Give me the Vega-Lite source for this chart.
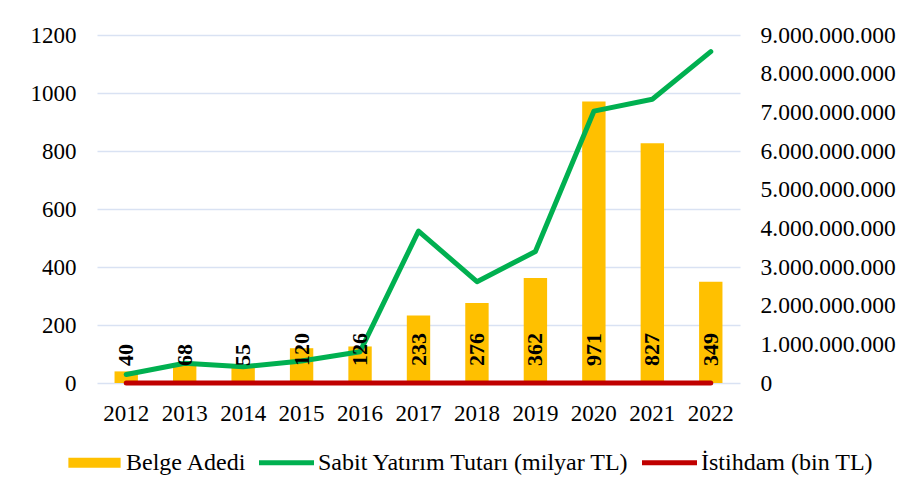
{
  "$schema": "https://vega.github.io/schema/vega-lite/v6.json",
  "autosize": "none",
  "width": 643,
  "height": 348,
  "padding": {"left": 97, "top": 35, "right": 169, "bottom": 114},
  "background": "white",
  "config": {
    "view": {"stroke": null},
    "font": "Liberation Serif",
    "locale": {"number": {"decimal": ",", "thousands": ".", "grouping": [3], "currency": ["", " TL"]}},
    "axis": {"labelFont": "Liberation Serif", "labelFontSize": 23, "labelColor": "#000000", "domain": false, "ticks": false, "title": null, "labelOverlap": false}
  },
  "data": {
    "values": [
      {"yil": "2012", "belge": 40, "yatirim": 220000000, "istihdam": 0},
      {"yil": "2013", "belge": 68, "yatirim": 510000000, "istihdam": 0},
      {"yil": "2014", "belge": 55, "yatirim": 420000000, "istihdam": 0},
      {"yil": "2015", "belge": 120, "yatirim": 570000000, "istihdam": 0},
      {"yil": "2016", "belge": 126, "yatirim": 810000000, "istihdam": 0},
      {"yil": "2017", "belge": 233, "yatirim": 3930000000, "istihdam": 0},
      {"yil": "2018", "belge": 276, "yatirim": 2620000000, "istihdam": 0},
      {"yil": "2019", "belge": 362, "yatirim": 3400000000, "istihdam": 0},
      {"yil": "2020", "belge": 971, "yatirim": 7030000000, "istihdam": 0},
      {"yil": "2021", "belge": 827, "yatirim": 7340000000, "istihdam": 0},
      {"yil": "2022", "belge": 349, "yatirim": 8570000000, "istihdam": 0}
    ]
  },
  "encoding": {
    "x": {
      "field": "yil", "type": "ordinal",
      "scale": {"paddingInner": 0.6, "paddingOuter": 0.3},
      "axis": {"labelAngle": 0, "labelPadding": 19, "grid": false}
    }
  },
  "layer": [
    {
      "mark": {"type": "bar", "color": "#FFC000"},
      "encoding": {
        "y": {
          "field": "belge", "type": "quantitative",
          "scale": {"domain": [0, 1200], "nice": false},
          "axis": {"values": [0, 200, 400, 600, 800, 1000, 1200], "format": "d", "grid": true, "gridColor": "#D9E2F3", "gridWidth": 1.5, "labelPadding": 21}
        },
        "color": {
          "datum": "Belge Adedi",
          "scale": {
            "domain": ["Belge Adedi", "Sabit Yatırım Tutarı (milyar TL)", "İstihdam (bin TL)"],
            "range": ["#FFC000", "#00B050", "#C00000"]
          },
          "legend": {
            "orient": "none", "legendX": -30, "legendY": 400, "direction": "horizontal",
            "title": null, "padding": 0,
            "labelFont": "Liberation Serif", "labelFontSize": 24, "labelColor": "#000000", "labelLimit": 0,
            "symbolSize": 3025, "symbolType": "M-1,-0.09H1V0.09H-1Z",
            "symbolStrokeWidth": 0, "labelOffset": 4, "columnPadding": 12,
            "symbolOpacity": 1,
            "encode": {
              "symbols": {
                "update": {
                  "shape": {"signal": "datum.value === 'Belge Adedi' ? 'M-0.95,-0.18H0.95V0.18H-0.95Z' : 'M-1,-0.09H1V0.09H-1Z'"},
                  "fill": {"scale": "color", "field": "value"},
                  "strokeWidth": {"value": 0},
                  "opacity": {"value": 1}
                }
              }
            }
          }
        }
      }
    },
    {
      "layer": [
        {
          "mark": {"type": "line", "strokeWidth": 5, "strokeCap": "round", "strokeJoin": "round"},
          "encoding": {
            "y": {
              "field": "yatirim", "type": "quantitative",
              "scale": {"domain": [0, 9000000000], "nice": false},
              "axis": {"orient": "right", "values": [0, 1000000000, 2000000000, 3000000000, 4000000000, 5000000000, 6000000000, 7000000000, 8000000000, 9000000000], "format": ",d", "grid": false, "labelPadding": 20, "labelFontSize": 23.5, "labelOverlap": false, "labelFlush": false, "labelAlign": "left", "labelBound": false}
            },
            "color": {"datum": "Sabit Yatırım Tutarı (milyar TL)"}
          }
        },
        {
          "mark": {"type": "line", "strokeWidth": 5, "strokeCap": "round", "strokeJoin": "round"},
          "encoding": {
            "y": {"field": "istihdam", "type": "quantitative",
              "axis": {"orient": "right", "values": [0, 1000000000, 2000000000, 3000000000, 4000000000, 5000000000, 6000000000, 7000000000, 8000000000, 9000000000], "format": ",d", "grid": false, "labelPadding": 20, "labelFontSize": 23.5, "labelOverlap": false, "labelFlush": false, "labelAlign": "left", "labelBound": false}
            },
            "color": {"datum": "İstihdam (bin TL)"}
          }
        },
        {
          "mark": {"type": "text", "angle": 270, "align": "left", "baseline": "middle", "dx": 17, "font": "Liberation Serif", "fontWeight": "bold", "fontSize": 22, "color": "#000000"},
          "encoding": {
            "y": {"datum": 0, "type": "quantitative",
              "axis": {"orient": "right", "values": [0, 1000000000, 2000000000, 3000000000, 4000000000, 5000000000, 6000000000, 7000000000, 8000000000, 9000000000], "format": ",d", "grid": false, "labelPadding": 20, "labelFontSize": 23.5, "labelOverlap": false, "labelFlush": false, "labelAlign": "left", "labelBound": false}
            },
            "text": {"field": "belge", "type": "quantitative"}
          }
        }
      ]
    }
  ],
  "resolve": {"scale": {"y": "independent"}}
}
